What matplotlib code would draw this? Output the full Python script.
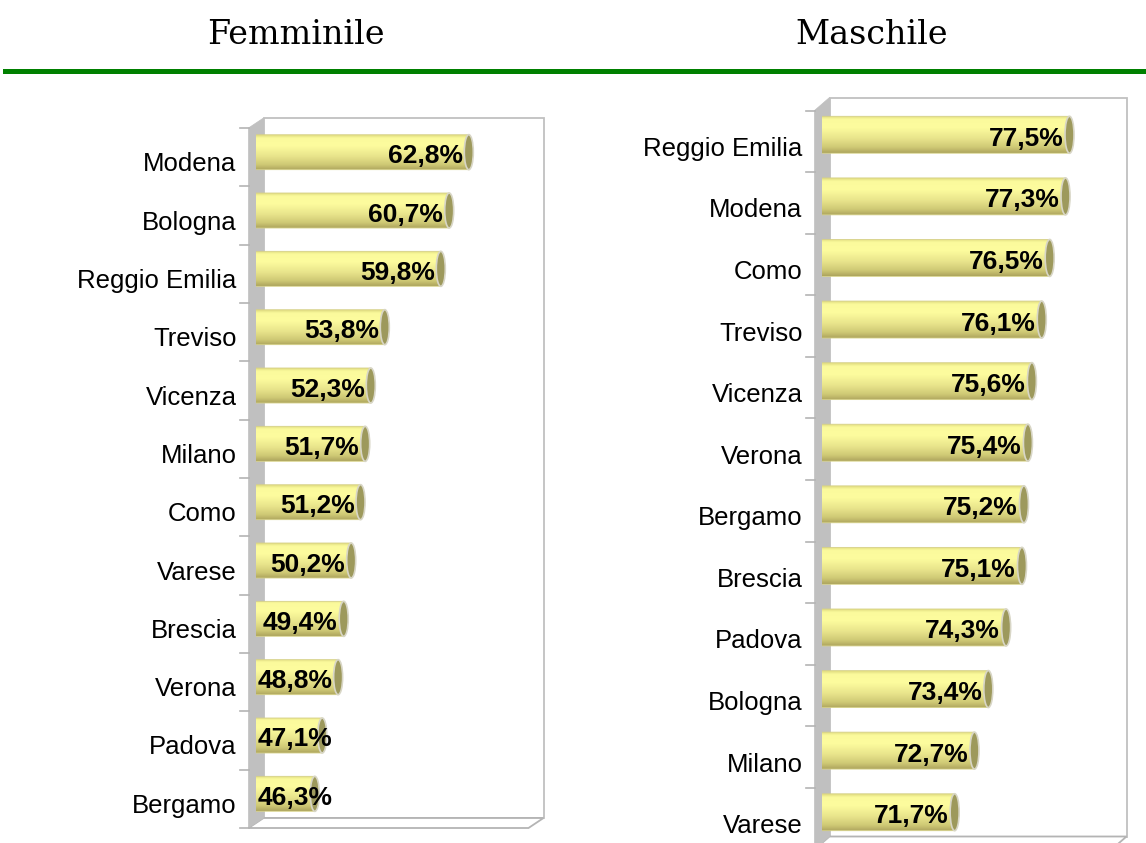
import matplotlib
matplotlib.use("Agg")
import matplotlib.pyplot as plt
import numpy as np
from matplotlib.colors import LinearSegmentedColormap
from matplotlib.lines import Line2D
from matplotlib.patches import Ellipse, PathPatch, Polygon
from matplotlib.path import Path
from matplotlib.transforms import blended_transform_factory, offset_copy

W, H = 1146, 843

fem_cities = ["Modena", "Bologna", "Reggio Emilia", "Treviso", "Vicenza", "Milano",
              "Como", "Varese", "Brescia", "Verona", "Padova", "Bergamo"]
fem_values = [62.8, 60.7, 59.8, 53.8, 52.3, 51.7, 51.2, 50.2, 49.4, 48.8, 47.1, 46.3]

mas_cities = ["Reggio Emilia", "Modena", "Como", "Treviso", "Vicenza", "Verona",
              "Bergamo", "Brescia", "Padova", "Bologna", "Milano", "Varese"]
mas_values = [77.5, 77.3, 76.5, 76.1, 75.6, 75.4, 75.2, 75.1, 74.3, 73.4, 72.7, 71.7]

fem_range = (40, 70)
mas_range = (65, 80)

# cylinder shading, top to bottom
bar_cmap = LinearSegmentedColormap.from_list(
    "cyl",
    [(0.0, "#e2de82"), (0.08, "#fbfa9c"), (0.3, "#fdfc9e"), (0.6, "#e9e58c"),
     (0.85, "#cfc975"), (1.0, "#aea65e")],
)
WALL = "#c0c0c0"
EDGE = "#b4b4b4"


def pct_label(v):
    return f"{v:.1f}%".replace(".", ",")


def draw_panel(fig, box, depth, cities, values, xrange, lab_dy):
    x0, y0, x1, y1 = box
    dx, dy = depth
    pw, ph = x1 - x0, y1 - y0
    ax = fig.add_axes([x0 / W, 1 - y1 / H, pw / W, ph / H])
    n = len(cities)
    xr0, xr1 = xrange
    ax.set_xlim(xr0, xr1)
    ax.set_ylim(n - 0.5, -0.5)
    ax.axis("off")

    def fx(px):
        return (px - x0) / pw

    def fy(py):
        return (y1 - py) / ph

    # front and back planes of the 3D box, bars sit halfway
    fl, fr, ft, fb = x0 - dx / 2, x1 - dx / 2, y0 + dy / 2, y1 + dy / 2
    bl, br, bt, bb = x0 + dx / 2, x1 + dx / 2, y0 - dy / 2, y1 - dy / 2

    ax.add_patch(Polygon([(fx(bl), fy(bt)), (fx(br), fy(bt)), (fx(br), fy(bb)), (fx(bl), fy(bb))],
                         closed=True, facecolor="white", edgecolor=WALL, lw=1.3,
                         transform=ax.transAxes, clip_on=False, zorder=0))
    ax.add_patch(Polygon([(fx(fl), fy(fb)), (fx(fr), fy(fb)), (fx(br), fy(bb)), (fx(bl), fy(bb))],
                         closed=True, facecolor="white", edgecolor=EDGE, lw=1.3,
                         transform=ax.transAxes, clip_on=False, zorder=0.5))
    ax.add_patch(Polygon([(fx(fl), fy(fb)), (fx(fl), fy(ft)), (fx(bl), fy(bt)), (fx(bl), fy(bb))],
                         closed=True, facecolor=WALL, edgecolor=WALL, lw=0.5,
                         transform=ax.transAxes, clip_on=False, zorder=1))
    for k in range(n + 1):
        yy = ft + k * (fb - ft) / n
        ax.add_line(Line2D([fx(fl - 9), fx(fl)], [fy(yy), fy(yy)], color=EDGE, lw=1.2,
                           transform=ax.transAxes, clip_on=False, zorder=1))

    upp = (xr1 - xr0) / pw  # data units per pixel
    h = 0.6
    bulge = 6 * upp
    cap_w = 9 * upp
    renderer = fig.canvas.get_renderer()

    for i, v in enumerate(values):
        top, bot = i - h / 2, i + h / 2
        th = np.linspace(np.pi / 2, 3 * np.pi / 2, 20)
        left_x = xr0 + bulge * np.cos(th)
        left_y = i - (h / 2) * np.sin(th)
        verts = [(xr0, top), (v, top), (v, bot), (xr0, bot)] + list(zip(left_x[::-1], left_y[::-1]))
        verts.append((xr0, top))
        codes = [Path.MOVETO] + [Path.LINETO] * (len(verts) - 2) + [Path.CLOSEPOLY]
        body = PathPatch(Path(verts, codes), facecolor="none", edgecolor="#d6d188",
                         lw=0.6, zorder=3)
        ax.add_patch(body)
        grad = np.linspace(0, 1, 64)[:, None]
        im = ax.imshow(grad, cmap=bar_cmap, aspect="auto", origin="upper",
                       extent=[xr0 - bulge, v, bot, top], zorder=2.5)
        im.set_clip_path(body)
        ax.add_patch(Ellipse((v, i), cap_w, h, facecolor="#9d995c", edgecolor="#d8d6c6",
                             lw=1.2, zorder=4))

        # value label at the inner end of the bar, pushed right if it would spill past the base
        lab_tr = offset_copy(ax.transData, fig=fig, x=-6, y=-4, units="dots")
        t = ax.text(v, i, pct_label(v), ha="right", va="center", fontsize=19,
                    fontweight="bold", family="Liberation Sans", color="black",
                    transform=lab_tr, zorder=5)
        ax.set_xlim(xr0, xr1)
        ax.set_ylim(n - 0.5, -0.5)
        tb = t.get_window_extent(renderer)
        start_px = ax.transData.transform((xr0, i))[0]
        if tb.x0 < start_px + 2:
            t.set_transform(offset_copy(ax.transData, fig=fig, x=2, y=-4, units="dots"))
            t.set_x(xr0)
            t.set_ha("left")

        cat_tr = offset_copy(blended_transform_factory(ax.transAxes, ax.transData),
                             fig=fig, x=0, y=-lab_dy, units="dots")
        ax.text(fx(fl - 12), i, cities[i], ha="right", va="center", fontsize=18.5,
                family="Liberation Sans", color="black", transform=cat_tr, zorder=5)

    ax.set_xlim(xr0, xr1)
    ax.set_ylim(n - 0.5, -0.5)
    return ax


fig = plt.figure(figsize=(W / 100, H / 100), dpi=100)
fig.patch.set_facecolor("white")

fig.text(296 / W, 1 - 35 / H, "Femminile", ha="center", va="center",
         family="DejaVu Serif", fontsize=24)
fig.text(872 / W, 1 - 35 / H, "Maschile", ha="center", va="center",
         family="DejaVu Serif", fontsize=24)
fig.add_artist(Line2D([5 / W, 1.0], [1 - 70.5 / H, 1 - 70.5 / H], color="#008000", lw=3.6))

draw_panel(fig, (256, 123, 536, 823), (15, 10), fem_cities, fem_values, fem_range, 12)
draw_panel(fig, (822, 104, 1119, 843), (15, 13), mas_cities, mas_values, mas_range, 14)

fig.savefig("out.png", dpi=100)
